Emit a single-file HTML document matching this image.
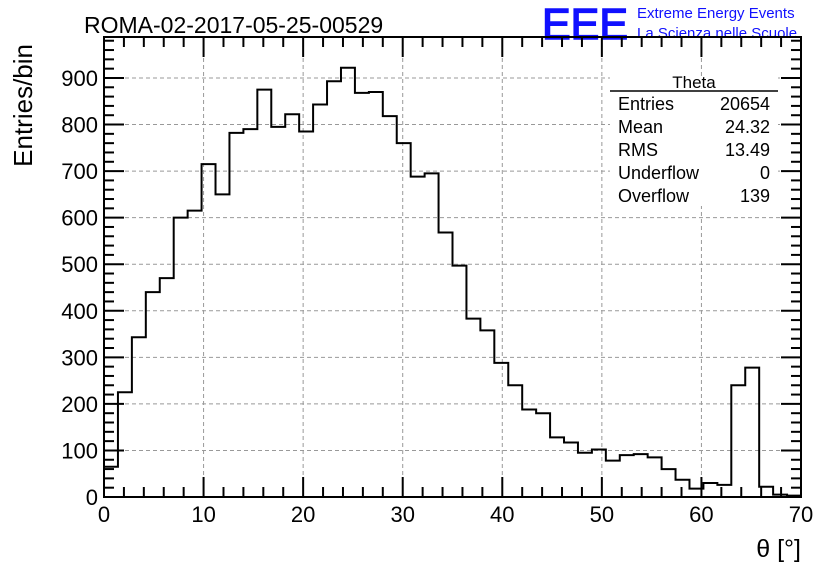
<!DOCTYPE html>
<html><head><meta charset="utf-8"><style>
body{margin:0;background:#fff;}
svg{font-family:"Liberation Sans",sans-serif;display:block;}
</style></head><body>
<svg id="c" width="836" height="572" viewBox="0 0 836 572">
<rect x="0" y="0" width="836" height="572" fill="#fff"/>
<text x="84" y="33" font-size="23">ROMA-02-2017-05-25-00529</text>
<text x="542" y="39" font-size="44" fill="#1010ff" stroke="#1010ff" stroke-width="1.5" textLength="86" lengthAdjust="spacingAndGlyphs">EEE</text>
<text x="637" y="18" font-size="15" fill="#1010ff">Extreme Energy Events</text>
<text x="637" y="38" font-size="15" fill="#1010ff">La Scienza nelle Scuole</text>
<g id="grid"></g>
<g id="axes"></g>
<path id="hist" fill="none" stroke="#000" stroke-width="2"/>
<text x="32" y="44" font-size="26" transform="rotate(-90 32 44)" text-anchor="end">Entries/bin</text>
<text x="801" y="557" font-size="25" text-anchor="end">θ [°]</text>
<g>
<rect x="610" y="76" width="168" height="130" fill="#fff"/>
<text x="694" y="88" font-size="17" text-anchor="middle">Theta</text>
<line x1="610" y1="91" x2="778" y2="91" stroke="#000" stroke-width="1.5"/>
<g id="stats" font-size="18"></g>
</g>
</svg>
<script>
const binValues=[65,225,343,440,470,600,615,715,650,782,790,875,795,822,785,843,893,922,868,870,818,760,688,695,568,497,383,358,288,240,188,180,128,117,95,102,78,90,92,85,60,37,18,30,26,240,278,22,5,3];
const xTicks=[0,10,20,30,40,50,60,70];
const yTicks=[0,100,200,300,400,500,600,700,800,900];
const statLabels=["Entries","Mean","RMS","Underflow","Overflow"];
const statValues=["20654","24.32","13.49","0","139"];
const X0=104,X1=801,Y0=497,Ytop=37;
const xMin=0,xMax=70,yMin=0,yMax=988;
const xs=v=>X0+(v-xMin)/(xMax-xMin)*(X1-X0);
const ys=v=>Y0-(v-yMin)/(yMax-yMin)*(Y0-Ytop);
const NS="http://www.w3.org/2000/svg";
function mk(tag,attrs,parent){const e=document.createElementNS(NS,tag);for(const k in attrs)e.setAttribute(k,attrs[k]);parent.appendChild(e);return e;}
const grid=document.getElementById('grid'),axes=document.getElementById('axes');
xTicks.forEach(t=>{if(t>xMin&&t<xMax){const l=mk('line',{x1:xs(t),x2:xs(t),y1:Ytop,y2:Y0,stroke:'#999','stroke-dasharray':'4,3'},grid);

}});
yTicks.forEach(t=>{if(t>yMin){const l=mk('line',{x1:X0,x2:X1,y1:ys(t),y2:ys(t),stroke:'#999','stroke-dasharray':'4,3'},grid);

}});
const fr=mk('rect',{x:X0,y:Ytop,width:X1-X0,height:Y0-Ytop,fill:'none',stroke:'#000','stroke-width':2},axes);


for(let v=xMin;v<=xMax;v+=2){const big=v%10===0;const len=big?20:10;
mk('line',{x1:xs(v),x2:xs(v),y1:Y0,y2:Y0-len,stroke:'#000','stroke-width':2},axes);
mk('line',{x1:xs(v),x2:xs(v),y1:Ytop,y2:Ytop+len,stroke:'#000','stroke-width':2},axes);}
for(let v=yMin;v<=yMax;v+=20){const big=v%100===0;const len=big?20:10;
mk('line',{x1:X0,x2:X0+len,y1:ys(v),y2:ys(v),stroke:'#000','stroke-width':2},axes);
mk('line',{x1:X1,x2:X1-len,y1:ys(v),y2:ys(v),stroke:'#000','stroke-width':2},axes);}
xTicks.forEach(t=>{const e=mk('text',{x:xs(t),y:522,'font-size':22,'text-anchor':'middle'},axes);e.textContent=t;

});
yTicks.forEach(t=>{const e=mk('text',{x:98,y:ys(t)+8,'font-size':22,'text-anchor':'end'},axes);e.textContent=t;

});
const bw=(xMax-xMin)/binValues.length;
let d='M'+xs(xMin)+','+ys(0);
binValues.forEach((v,i)=>{d+=' L'+xs(xMin+i*bw)+','+ys(v)+' L'+xs(xMin+(i+1)*bw)+','+ys(v);});
d+=' L'+xs(xMax)+','+ys(0);
document.getElementById('hist').setAttribute('d',d);
const st=document.getElementById('stats');
statLabels.forEach((s,i)=>{const y=110+i*23;
const a=mk('text',{x:618,y:y},st);a.textContent=s;


const b=mk('text',{x:770,y:y,'text-anchor':'end'},st);b.textContent=statValues[i];

});
</script>
</body></html>
